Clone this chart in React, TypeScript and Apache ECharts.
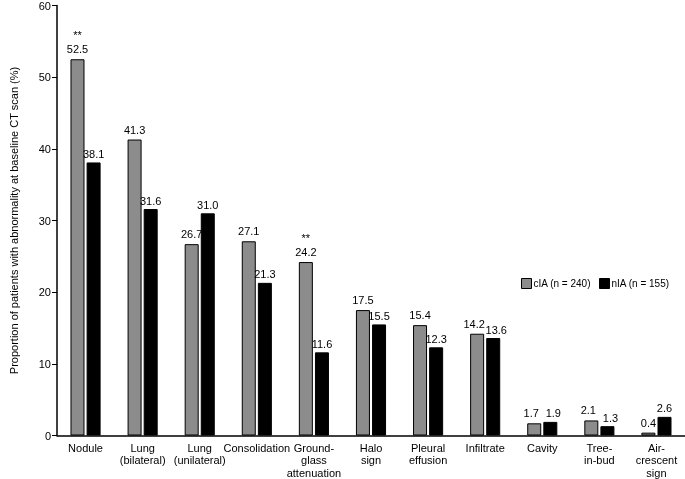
import React, { useEffect, useRef } from "react";
import * as echarts from "echarts";

const categories = [
  "Nodule",
  "Lung\n(bilateral)",
  "Lung\n(unilateral)",
  "Consolidation",
  "Ground-\nglass\nattenuation",
  "Halo\nsign",
  "Pleural\neffusion",
  "Infiltrate",
  "Cavity",
  "Tree-\nin-bud",
  "Air-\ncrescent\nsign",
];
const ciaValues = [52.5, 41.3, 26.7, 27.1, 24.2, 17.5, 15.4, 14.2, 1.7, 2.1, 0.4];
const niaValues = [38.1, 31.6, 31.0, 21.3, 11.6, 15.5, 12.3, 13.6, 1.9, 1.3, 2.6];
const ciaMarks = ["**", "", "", "", "**", "", "", "", "", "", ""];
const yTicks = [0, 10, 20, 30, 40, 50, 60];
// categories whose two value labels sit close together
const tightPairs = [false, false, false, false, false, false, false, true, true, true, false];

const FONT = "Liberation Sans, Arial, Helvetica, sans-serif";

export default function App() {
  const ref = useRef<HTMLDivElement>(null);
  useEffect(() => {
    if (!ref.current) return;
    const chart = echarts.init(ref.current, undefined, { renderer: "svg" });
    const ciaData = ciaValues.map((v, i) =>
      tightPairs[i] ? { value: v, label: { offset: [-3, 0] } } : v
    );
    const niaData = niaValues.map((v, i) =>
      tightPairs[i] ? { value: v, label: { offset: [3, 0] } } : v
    );
    chart.setOption({
      animation: false,
      textStyle: { fontFamily: FONT },
      grid: { left: 51, right: 0, top: 4, bottom: 43, containLabel: false },
      legend: {
        left: 521,
        top: 278,
        itemWidth: 10,
        itemHeight: 10,
        itemGap: 8,
        icon: "rect",
        padding: 0,
        textStyle: { fontFamily: FONT, fontSize: 10, color: "#000", padding: [0, 0, 0, -3] },
        itemStyle: { borderColor: "#000", borderWidth: 1 },
        data: ["cIA (n = 240)", "nIA (n = 155)"],
      },
      xAxis: {
        type: "category",
        data: categories,
        axisLine: { lineStyle: { color: "#000", width: 1.5 } },
        axisTick: { show: false },
        axisLabel: {
          color: "#000",
          fontSize: 11,
          fontFamily: FONT,
          lineHeight: 12.5,
          margin: 6,
          interval: 0,
        },
      },
      yAxis: {
        type: "value",
        min: yTicks[0],
        max: yTicks[yTicks.length - 1],
        interval: 10,
        name: "Proportion of patients with abnormality at baseline CT scan (%)",
        nameLocation: "middle",
        nameGap: 38,
        nameTextStyle: { color: "#000", fontSize: 11, fontFamily: FONT },
        splitLine: { show: false },
        axisLine: { show: true, lineStyle: { color: "#000", width: 1.5 } },
        axisTick: { show: true, length: 5, lineStyle: { color: "#000" } },
        axisLabel: { color: "#000", fontSize: 11, fontFamily: FONT, margin: 6 },
      },
      series: [
        {
          name: "cIA (n = 240)",
          type: "bar",
          data: ciaData,
          barWidth: 14,
          barGap: "15%",
          itemStyle: { color: "#8c8c8c", borderColor: "#000", borderWidth: 1 },
          label: {
            show: true,
            position: "top",
            distance: 3,
            color: "#000",
            fontSize: 11,
            fontFamily: FONT,
            lineHeight: 14,
            formatter: (p: any) => {
              const m = ciaMarks[p.dataIndex];
              const v = ciaValues[p.dataIndex].toFixed(1);
              return m ? m + "\n" + v : v;
            },
          },
        },
        {
          name: "nIA (n = 155)",
          type: "bar",
          data: niaData,
          barWidth: 14,
          itemStyle: { color: "#000", borderColor: "#000", borderWidth: 1 },
          label: {
            show: true,
            position: "top",
            distance: 3,
            color: "#000",
            fontSize: 11,
            fontFamily: FONT,
            formatter: (p: any) => niaValues[p.dataIndex].toFixed(1),
          },
        },
      ],
    });
    return () => chart.dispose();
  }, []);
  return (
    <div
      ref={ref}
      style={{ position: "fixed", left: 0, top: 0, width: 685, height: 479 }}
    />
  );
}
